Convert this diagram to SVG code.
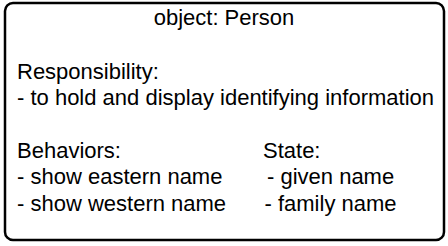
<svg xmlns="http://www.w3.org/2000/svg" width="448" height="246" viewBox="0 0 448 246">
  <style>
    .box { fill: #ffffff; stroke: #000000; stroke-width: 2.5; }
    .t { font-family: "Liberation Sans", Arial, sans-serif; font-size: 22px; fill: #000000; }
  </style>
  <rect width="448" height="246" fill="#ffffff"/>
  <g id="person">
    <rect class="box" x="5" y="3" width="439" height="237" rx="8" ry="8"/>
    <text class="t" x="224" y="25" text-anchor="middle">object: Person</text>
    <text class="t" x="17" y="78.5">Responsibility:</text>
    <text class="t" x="17" y="104.5">- to hold and display identifying information</text>
    <text class="t" x="17" y="157.5">Behaviors:</text>
    <text class="t" x="17" y="184">- show eastern name</text>
    <text class="t" x="17" y="210.5">- show western name</text>
    <text class="t" x="263" y="157.5">State:</text>
    <text class="t" x="267" y="184">- given name</text>
    <text class="t" x="264.5" y="210.5">- family name</text>
  </g>
</svg>
